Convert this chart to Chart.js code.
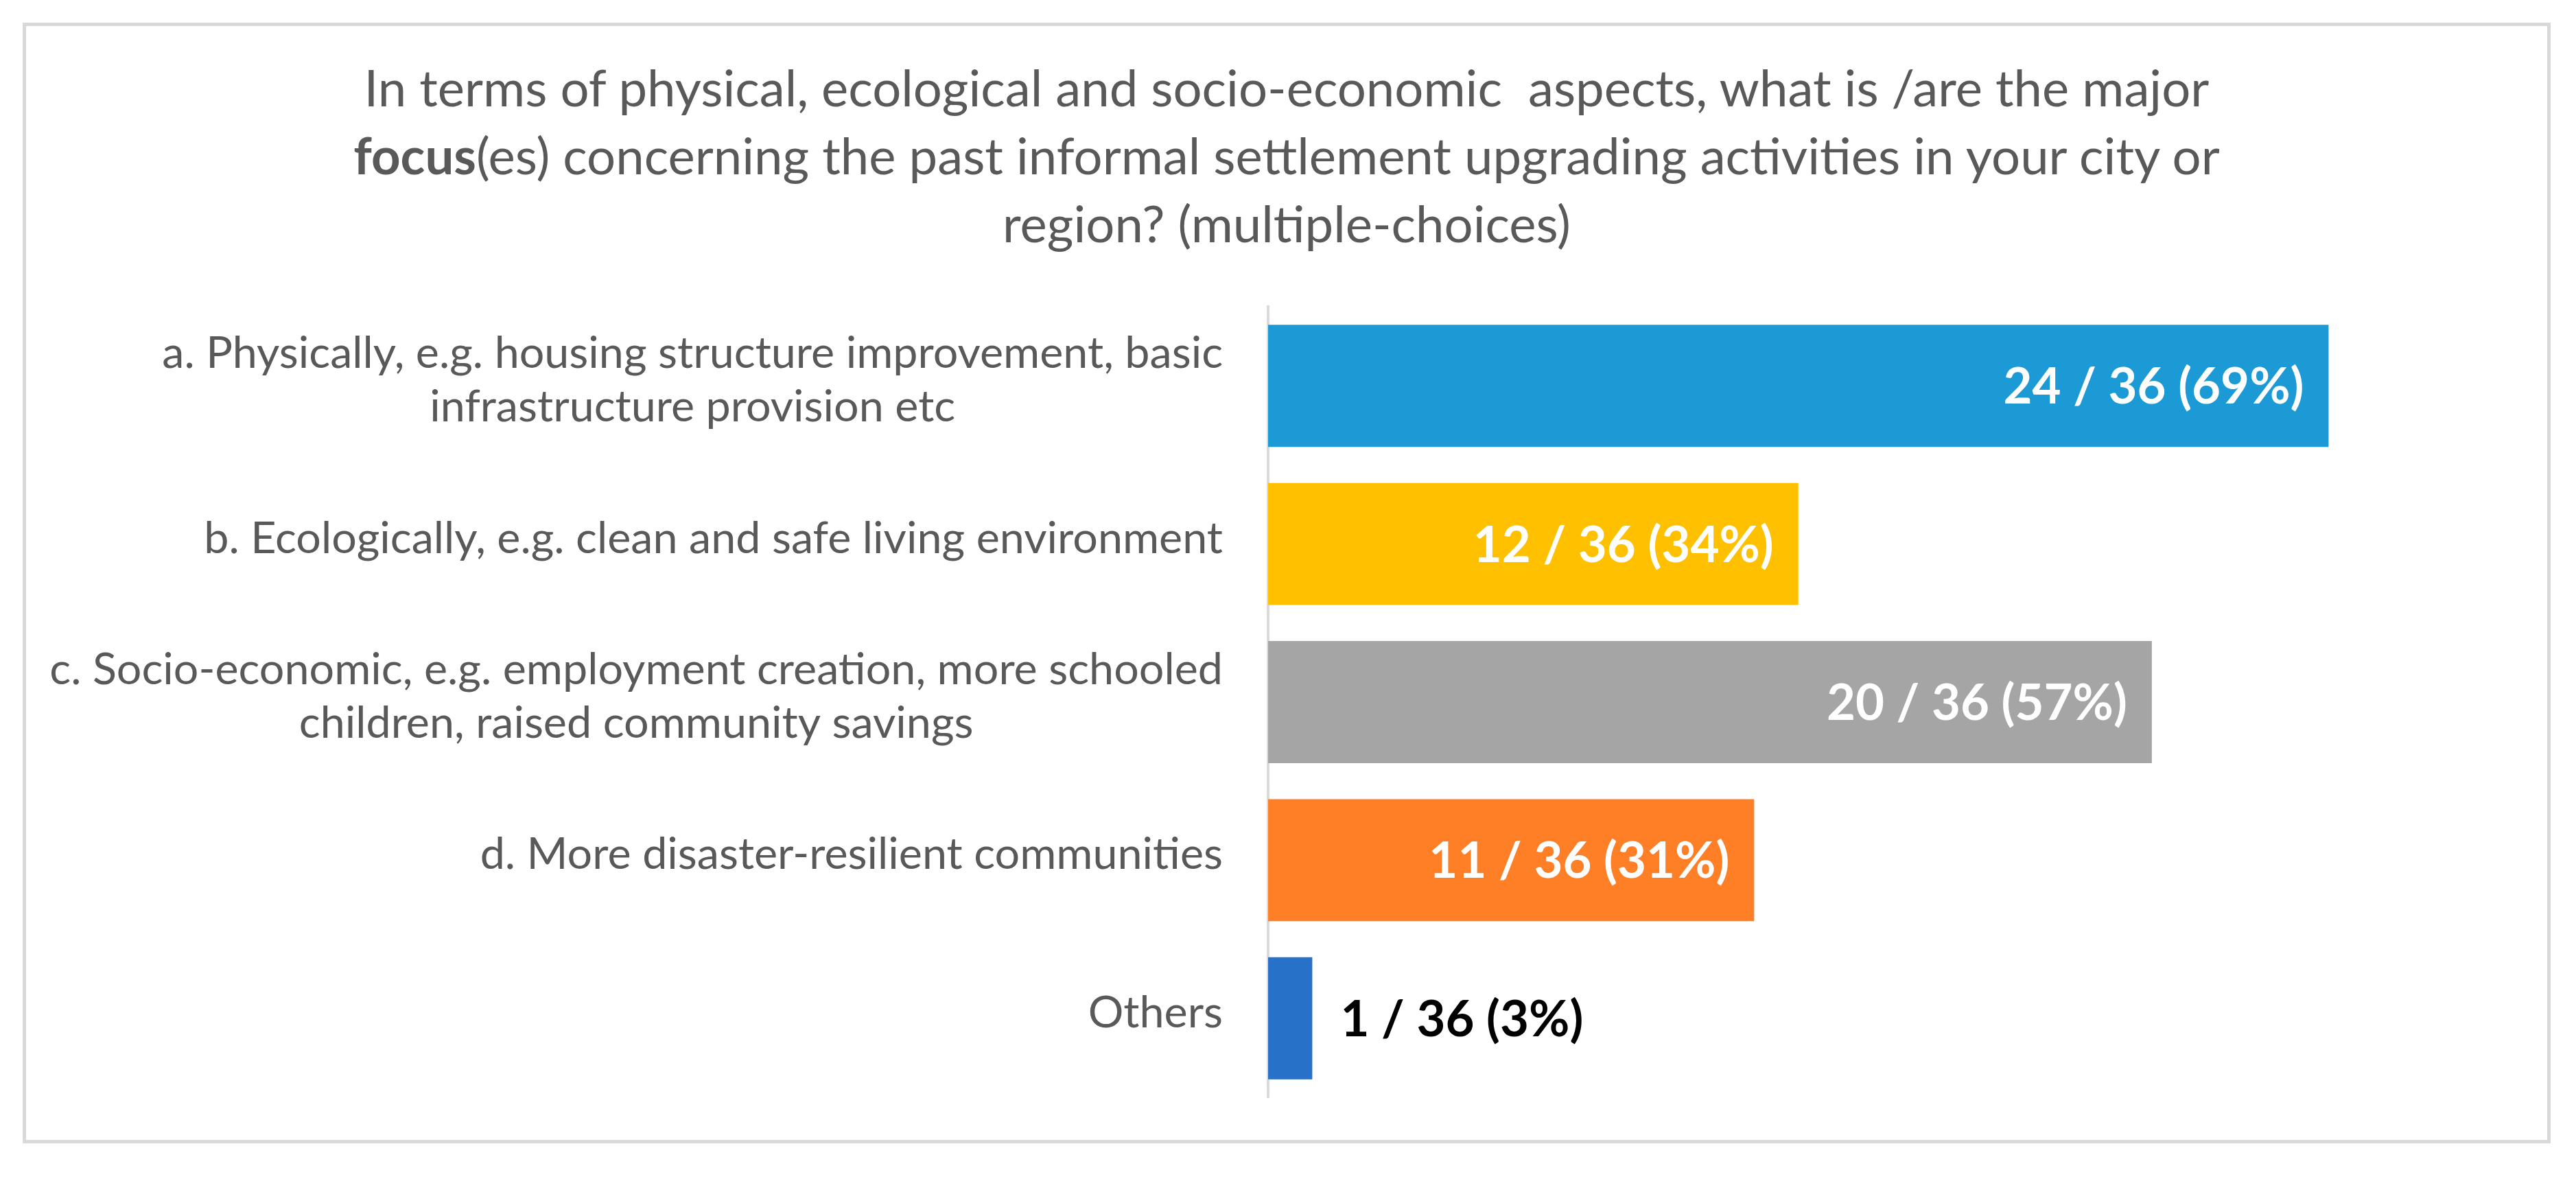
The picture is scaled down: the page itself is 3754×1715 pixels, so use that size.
<!DOCTYPE html>
<html lang="en">
<head>
  <meta charset="UTF-8">
  <title>Informal settlement upgrading - major focus</title>
  <script src="https://cdn.jsdelivr.net/npm/chart.js"></script>
  <style>
    * { margin: 0; padding: 0; box-sizing: border-box; }
    body { width: 3754px; height: 1715px; background: #fff; position: relative; overflow: hidden; }

    /* light grey frame around the chart */
    .frame {
      position: absolute;
      left: 33px; top: 33px;
      width: 3684px; height: 1633px;
      border: 5px solid #d9d9d9;
    }

    .title {
      position: absolute;
      left: 38px; top: 76px;
      width: 3674px;
      text-align: center;
      font-family: Lato, "Open Sans", sans-serif;
      font-size: 75px;
      line-height: 99px;
      color: #595959;
      white-space: pre;
    }

    #chart { position: absolute; left: 0; top: 0; }
  </style>
</head>
<body>
  <div class="frame"></div>
  <canvas id="chart" width="3754" height="1715"></canvas>
  <div class="title" id="title"></div>

  <script>
    // --- data ---
    const titleLines = [
      'In terms of physical, ecological and socio-economic  aspects, what is /are the major',
      '<b>focus</b>(es) concerning the past informal settlement upgrading activities in your city or',
      'region? (multiple-choices)'
    ];
    const categories = [
      ['a. Physically, e.g. housing structure improvement, basic', 'infrastructure provision etc'],
      ['b. Ecologically, e.g. clean and safe living environment'],
      ['c. Socio-economic, e.g. employment creation, more schooled', 'children, raised community savings'],
      ['d. More disaster-resilient communities'],
      ['Others']
    ];
    const responses = [24, 12, 20, 11, 1];
    const percentages = [69, 34, 57, 31, 3];   // as printed on the chart
    const respondents = 36;

    const barColors = ['#1b9ad6', '#ffc000', '#a5a5a5', '#ff7f27', '#2771c9'];

    const FONT = 'Lato, "Open Sans", sans-serif';

    // the original used Calibri; size the substitute font so text widths match
    const measurer = document.createElement('canvas').getContext('2d');
    function fitFont(text, weight, target) {
      measurer.font = weight + ' 100px ' + FONT;
      return 100 * target / measurer.measureText(text).width;
    }
    const valueText = i => responses[i] + ' / ' + respondents + ' (' + percentages[i] + '%)';

    const titleSize = fitFont(titleLines[0], 'normal', 2692);
    const labelSize = fitFont(categories[2][0], 'normal', 1710);
    const valueSize = fitFont(valueText(4), 'bold', 354);

    const titleEl = document.getElementById('title');
    titleEl.innerHTML = titleLines.join('\n');
    titleEl.style.fontSize = titleSize + 'px';
    // first baseline at y=155
    titleEl.style.top = (155 - 49.5 - 0.387 * titleSize) + 'px';

    // category labels: block right-aligned against the axis, lines centred inside the block
    const categoryLabels = {
      id: 'categoryLabels',
      afterDraw(chart) {
        const ctx = chart.ctx;
        const y = chart.scales.y;
        const right = chart.chartArea.left - 66;
        const lineH = 78;
        ctx.save();
        ctx.font = labelSize + 'px ' + FONT;
        ctx.fillStyle = '#595959';
        ctx.textAlign = 'center';
        ctx.textBaseline = 'alphabetic';
        categories.forEach((lines, i) => {
          const w = Math.max(...lines.map(l => ctx.measureText(l).width));
          const cx = right - w / 2;
          const cy = y.getPixelForTick(i);
          lines.forEach((l, j) => {
            ctx.fillText(l, cx, cy + (j - (lines.length - 1) / 2) * lineH + 13);
          });
        });
        ctx.restore();
      }
    };

    // value labels: inside end when they fit, otherwise just outside the bar
    const valueLabels = {
      id: 'valueLabels',
      afterDatasetsDraw(chart) {
        const ctx = chart.ctx;
        const meta = chart.getDatasetMeta(0);
        ctx.save();
        ctx.font = 'bold ' + valueSize + 'px ' + FONT;
        ctx.textBaseline = 'alphabetic';
        meta.data.forEach((bar, i) => {
          const txt = valueText(i);
          const w = ctx.measureText(txt).width;
          const barLen = bar.x - bar.base;
          if (w + 60 < barLen) {
            ctx.fillStyle = '#ffffff';
            ctx.textAlign = 'right';
            ctx.fillText(txt, bar.x - 36, bar.y + 26);
          } else {
            ctx.fillStyle = '#000000';
            ctx.textAlign = 'left';
            ctx.fillText(txt, bar.x + 41, bar.y + 26);
          }
        });
        ctx.restore();
      }
    };

    new Chart(document.getElementById('chart'), {
      type: 'bar',
      data: {
        labels: categories,
        datasets: [{
          data: responses,
          backgroundColor: barColors,
          borderWidth: 0,
          categoryPercentage: 1,
          barPercentage: 0.772
        }]
      },
      options: {
        indexAxis: 'y',
        responsive: false,
        devicePixelRatio: 1,
        animation: false,
        layout: { padding: { top: 447, bottom: 116, left: 0, right: 103 } },
        plugins: {
          legend: { display: false },
          tooltip: { enabled: false }
        },
        scales: {
          x: { display: false, min: 0, max: 28 },
          y: {
            ticks: { display: false },
            grid: { display: false, drawTicks: false },
            border: { display: true, color: '#d9d9d9', width: 4 },
            afterFit(scale) { scale.width = 1848; }
          }
        }
      },
      plugins: [categoryLabels, valueLabels]
    });
  </script>
</body>
</html>
